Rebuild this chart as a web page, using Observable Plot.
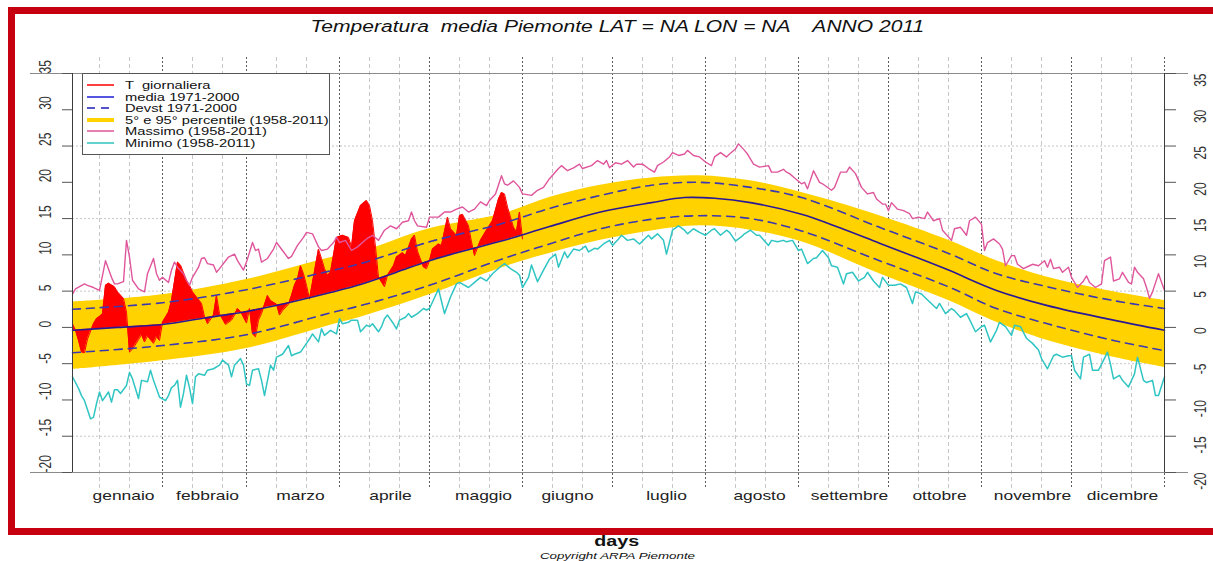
<!DOCTYPE html>
<html lang="it">
<head>
<meta charset="utf-8">
<title>Temperatura media Piemonte 2011</title>
<script src="https://cdn.jsdelivr.net/npm/d3@7"></script>
<script src="https://cdn.jsdelivr.net/npm/@observablehq/plot@0.6"></script>
<style>
  html, body { margin: 0; padding: 0; background: #fff; }
  #page { position: relative; width: 1213px; height: 561px; overflow: hidden; background: #fff;
          font-family: "Liberation Sans", Arial, Helvetica, sans-serif; color: #111; }
  #chart { position: absolute; left: 0; top: 0; }
  #frame { position: absolute; left: 8px; top: 7px; width: 1400px; height: 514px;
           border: 7px solid #c70010; border-right: none; pointer-events: none; }
  .row { position: absolute; left: 0; width: 1234px; text-align: center; white-space: pre; }
  .wide { display: inline-block; transform: scaleX(1.35); transform-origin: 50% 50%; }
  #title { top: 17px; font-style: italic; font-size: 15.6px; line-height: 20px; }
  #xlabel { top: 531px; font-weight: bold; font-size: 14.6px; line-height: 20px; }
  #credit { top: 550px; font-style: italic; font-size: 9.9px; line-height: 12px; }
  #legend { position: absolute; left: 82px; top: 73px; width: 246px; height: 80px;
            border: 1px solid #555; background: #fff; }
  .key { position: absolute; left: 0; height: 12px; width: 246px; }
  .key svg { position: absolute; left: 4px; top: 0; overflow: visible; }
  .key span { position: absolute; left: 42px; top: 0; font-size: 10.9px; line-height: 12px; white-space: pre;
              transform: scaleX(1.35); transform-origin: 0 50%; color: #111; }
</style>
</head>
<body>
<div id="page">
  <div id="chart"></div>
  <div id="frame"></div>
  <div id="title" class="row"><span class="wide">Temperatura  media Piemonte LAT = NA LON = NA    ANNO 2011</span></div>
  <div id="xlabel" class="row"><span class="wide">days</span></div>
  <div id="credit" class="row"><span class="wide">Copyright ARPA Piemonte</span></div>
  <div id="legend"></div>
</div>
<script>
// ---- y axis -------------------------------------------------------------
const yTicks = [-20, -15, -10, -5, 0, 5, 10, 15, 20, 25, 30, 35];
const yGrid = [-15, -5, 5, 15, 25];

// ---- calendar (day of year, 2011) --------------------------------------
const monthNames = ["gennaio", "febbraio", "marzo", "aprile", "maggio", "giugno",
                    "luglio", "agosto", "settembre", "ottobre", "novembre", "dicembre"];
const monthLabelDays = [18, 46, 77, 107, 138, 166, 199, 230, 260, 290, 321, 351];
const monthFirstDays = [1, 32, 60, 91, 121, 152, 182, 213, 244, 274, 305, 335];
const monthLastDays = [31, 59, 90, 120, 151, 181, 212, 243, 273, 304, 334, 365];
const decadeDays = monthFirstDays.flatMap(d => [d + 9, d + 19]);

// ---- climatology 1971-2000 and percentiles 1958-2011 (°C) ---------------
const mediaClima = [[1, -0.4], [16, 0.0], [31, 0.4], [45, 1.3], [59, 2.2], [73, 3.4], [87, 4.8],
  [97, 5.9], [109, 7.6], [120, 9.2], [132, 10.6], [144, 11.9], [160, 13.9], [177, 15.9],
  [194, 17.2], [205, 17.9], [215, 17.8], [227, 17.2], [244, 15.6], [257, 13.7], [270, 11.6],
  [282, 9.7], [293, 7.9], [309, 5.1], [326, 3.0], [348, 1.0], [365, -0.4]];

const bandDays = [1, 31, 59, 87, 97, 120, 144, 160, 177, 194, 210, 227, 244, 270, 293, 309, 326, 348, 365];
const percentile95 = [3.5, 4.5, 6.6, 9.6, 10.4, 13.6, 15.6, 17.9, 19.6, 20.6, 20.9, 20.2, 18.6, 15.4, 12.0, 9.2, 6.9, 4.9, 3.7];
const devstSopra = [2.5, 3.4, 5.2, 7.8, 8.8, 11.8, 14.3, 16.4, 18.2, 19.6, 20.0, 19.3, 17.9, 13.8, 10.2, 7.4, 5.6, 3.7, 2.6];
const devstSotto = [-3.5, -2.5, -1.0, 2.0, 3.0, 5.8, 9.4, 11.5, 13.6, 14.9, 15.4, 15.0, 13.3, 9.2, 5.6, 2.6, 0.5, -1.8, -3.2];
const percentile5 = [-5.8, -4.6, -2.9, 0.3, 1.4, 4.5, 8.2, 10.2, 12.0, 13.3, 14.0, 13.4, 11.8, 7.4, 3.7, 0.7, -1.8, -4.1, -5.5];

// ---- record maxima 1958-2011 -------------------------------------------
const massimo = [[1,4.6],[2,5.3],[5,6.0],[6,5.8],[8,5.5],[10,5.1],[12,9.2],[14,6.9],[15,6.0],[16,6.0],[18,6.3],[19,12.0],[20,9.7],[21,6.5],[23,5.3],[25,4.9],[26,7.4],[28,9.5],[29,7.4],[30,6.5],[31,6.9],[33,6.2],[34,7.9],[35,9.0],[36,8.3],[38,7.4],[39,6.5],[40,5.8],[41,6.9],[43,8.3],[44,9.5],[45,9.6],[46,8.8],[48,8.6],[49,7.6],[50,8.1],[53,9.7],[55,10.1],[56,9.2],[58,7.9],[59,9.0],[61,11.7],[62,10.6],[63,10.8],[64,9.0],[66,9.5],[68,10.8],[69,11.7],[71,10.6],[73,9.5],[74,9.8],[76,11.3],[78,12.4],[79,13.1],[81,12.9],[83,11.1],[84,10.6],[86,10.8],[88,11.7],[89,12.4],[90,11.7],[92,12.0],[94,10.6],[96,11.1],[99,12.2],[101,12.7],[103,12.0],[105,13.4],[107,14.0],[109,13.6],[111,14.5],[113,14.7],[114,15.9],[115,14.7],[116,14.0],[119,13.8],[120,15.2],[123,15.2],[125,15.9],[127,15.9],[129,16.3],[131,16.6],[133,15.9],[135,16.3],[137,17.3],[139,16.8],[140,17.5],[142,18.4],[144,20.9],[145,19.8],[146,19.6],[148,20.2],[150,19.3],[151,18.4],[154,18.2],[156,18.9],[158,19.3],[160,20.5],[163,21.9],[164,22.3],[166,21.6],[168,22.0],[170,22.5],[171,21.9],[174,22.3],[176,23.0],[178,22.5],[179,23.0],[180,22.0],[182,22.7],[184,22.5],[186,23.0],[188,22.1],[189,22.5],[191,22.5],[193,21.9],[195,21.4],[196,22.3],[198,22.8],[200,23.5],[201,24.1],[203,23.7],[205,23.9],[206,24.4],[208,23.7],[210,23.5],[212,22.8],[214,22.3],[215,23.5],[217,24.1],[219,23.5],[220,23.9],[222,24.6],[223,25.3],[225,24.4],[226,23.9],[228,22.5],[230,22.1],[233,22.3],[234,21.4],[236,21.4],[238,21.8],[239,21.4],[240,21.2],[242,20.5],[244,19.8],[245,20.0],[246,19.1],[248,21.6],[250,20.0],[251,19.8],[254,18.9],[255,19.3],[257,21.4],[259,21.4],[260,22.1],[262,21.2],[264,19.3],[266,18.4],[268,18.6],[269,17.7],[271,17.0],[272,17.0],[273,16.1],[274,17.2],[276,16.3],[278,16.1],[280,15.7],[281,15.0],[283,15.2],[285,15.0],[286,15.9],[288,14.7],[290,15.0],[291,13.4],[294,12.0],[295,13.6],[297,13.8],[299,12.7],[300,14.7],[302,15.2],[304,14.2],[305,10.6],[306,11.7],[308,12.2],[310,11.5],[311,10.8],[312,8.5],[314,9.9],[315,9.9],[316,8.7],[318,8.1],[320,8.5],[321,8.7],[323,8.5],[325,9.2],[326,8.3],[327,9.4],[328,8.1],[330,8.3],[331,7.6],[333,8.3],[334,6.9],[336,5.5],[338,6.4],[339,7.1],[340,6.2],[342,5.5],[344,6.0],[345,9.2],[347,9.7],[348,6.4],[350,6.7],[351,7.6],[353,6.2],[354,6.0],[355,8.3],[356,7.6],[358,6.7],[359,5.5],[360,4.0],[361,4.9],[363,7.4],[365,5.1]];

// ---- record minima 1958-2011 -------------------------------------------
const minimo = [[1,-6.8],[3,-8.4],[4,-9.4],[5,-10.1],[7,-12.6],[8,-12.4],[9,-10.5],[10,-8.9],[11,-10.1],[13,-8.9],[14,-10.3],[15,-8.6],[16,-8.6],[17,-9.1],[19,-8.0],[20,-6.2],[21,-7.1],[23,-9.8],[24,-7.3],[26,-7.5],[27,-5.9],[28,-7.3],[30,-9.6],[32,-10.1],[33,-9.4],[34,-8.3],[35,-8.0],[36,-7.3],[37,-11.0],[38,-9.1],[39,-6.6],[40,-8.3],[41,-10.5],[42,-6.8],[43,-6.4],[45,-6.6],[46,-5.9],[48,-5.7],[50,-5.2],[51,-4.5],[53,-5.2],[54,-6.8],[55,-5.2],[57,-4.3],[58,-5.2],[59,-7.8],[60,-8.0],[61,-5.9],[63,-5.7],[64,-7.3],[65,-9.4],[66,-7.3],[67,-5.2],[68,-5.9],[69,-4.1],[71,-3.7],[73,-2.5],[74,-3.9],[75,-3.7],[77,-3.4],[79,-2.2],[80,-1.6],[81,-0.9],[83,-2.0],[84,-0.2],[85,-1.1],[87,-0.4],[89,-0.9],[90,1.2],[91,0.5],[93,0.7],[94,1.0],[96,1.0],[97,-0.6],[99,0.3],[100,0.1],[101,0.5],[103,-0.6],[104,0.1],[105,1.2],[106,1.7],[108,0.5],[109,-0.2],[110,1.0],[112,1.4],[113,1.9],[114,1.4],[116,1.9],[118,2.6],[119,2.4],[120,2.6],[123,5.3],[125,1.9],[127,4.2],[129,6.0],[130,6.2],[133,5.5],[135,6.2],[137,6.9],[139,6.4],[141,7.4],[144,8.5],[145,8.8],[147,8.1],[149,7.6],[150,7.2],[151,5.5],[153,6.9],[154,8.6],[156,6.3],[158,7.9],[160,9.4],[162,10.1],[163,8.3],[165,10.4],[166,9.6],[168,10.8],[170,10.6],[172,11.2],[173,10.4],[175,10.9],[176,10.8],[178,11.5],[180,12.0],[181,11.3],[183,12.2],[184,12.7],[186,12.0],[188,12.2],[190,11.5],[193,12.7],[194,12.2],[196,12.9],[198,12.0],[199,10.1],[201,13.4],[203,14.0],[205,13.4],[206,12.9],[208,13.6],[210,13.1],[212,12.7],[214,13.4],[215,13.6],[217,12.7],[219,13.4],[220,13.1],[222,11.9],[224,12.5],[225,12.9],[227,13.4],[229,12.7],[230,12.7],[233,11.3],[234,12.0],[236,11.8],[238,12.0],[239,11.8],[241,12.0],[243,10.6],[244,10.8],[246,8.8],[248,9.5],[249,9.6],[251,10.6],[253,9.6],[254,8.5],[256,8.3],[258,6.0],[259,7.4],[261,7.6],[263,6.4],[265,6.9],[266,7.6],[268,6.4],[270,5.5],[271,6.9],[273,5.8],[275,5.8],[277,6.0],[279,5.5],[281,3.3],[282,4.9],[284,4.6],[285,4.2],[287,3.4],[289,2.6],[290,3.3],[292,1.9],[294,2.6],[295,2.3],[297,1.4],[299,1.9],[300,1.1],[302,-0.6],[304,0.1],[305,0.3],[307,-2.0],[309,-0.4],[310,0.7],[312,0.1],[314,-1.1],[315,0.3],[317,0.1],[319,-1.5],[321,-2.2],[323,-3.1],[324,-4.3],[326,-5.7],[328,-3.9],[329,-3.7],[331,-4.1],[333,-3.9],[334,-3.9],[335,-5.9],[337,-7.1],[338,-4.1],[340,-3.7],[341,-5.9],[343,-5.9],[344,-5.1],[346,-3.4],[347,-5.1],[348,-7.1],[350,-6.6],[351,-7.3],[353,-8.2],[355,-6.4],[356,-4.1],[358,-7.3],[359,-7.6],[361,-7.3],[362,-9.4],[363,-9.4],[365,-6.8]];

// ---- daily mean temperature 2011 (1 Jan - 31 May) ----------------------
const tGiornaliera = [[1,0.5],[2,-0.4],[3,-1.8],[4,-3.4],[5,-3.5],[6,-1.6],[8,0.5],[9,1.2],[10,1.5],[11,1.9],[12,5.8],[13,6.1],[15,5.6],[16,4.9],[18,4.0],[19,2.1],[20,-3.4],[21,-3.0],[23,-1.7],[24,-1.0],[25,-2.0],[26,-1.2],[28,-2.2],[29,-1.3],[30,-1.8],[31,0.7],[33,2.1],[34,3.7],[36,9.0],[37,8.6],[39,6.5],[40,5.8],[41,4.9],[44,3.3],[45,1.5],[46,0.5],[48,1.7],[49,4.4],[50,1.9],[52,0.4],[54,1.0],[55,1.7],[56,2.6],[57,2.2],[59,0.6],[60,2.6],[61,-0.9],[62,-1.3],[63,1.0],[64,1.9],[66,4.4],[67,3.7],[69,3.2],[70,1.7],[71,2.3],[73,3.2],[74,4.4],[75,5.8],[76,6.7],[77,8.5],[78,7.4],[79,5.8],[80,3.9],[81,6.2],[83,10.8],[84,9.5],[85,8.1],[86,7.2],[87,7.6],[89,12.4],[91,12.7],[93,12.4],[94,11.1],[95,14.7],[97,16.8],[99,17.5],[100,16.8],[101,14.7],[102,11.1],[103,6.9],[105,5.6],[106,7.2],[108,8.5],[109,9.7],[111,10.3],[112,9.9],[114,12.2],[115,12.7],[116,10.5],[118,8.3],[119,8.1],[120,9.2],[121,10.8],[123,11.5],[124,11.3],[126,15.2],[127,13.6],[129,12.7],[130,15.4],[131,15.6],[133,14.0],[134,11.8],[135,9.9],[137,12.0],[139,13.4],[141,14.7],[143,17.7],[144,18.6],[145,18.4],[146,16.6],[148,13.8],[149,13.2],[150,15.9],[151,12.2]];

// ---- legend entries -----------------------------------------------------
const legendLabels = ["T  giornaliera", "media 1971-2000", "Devst 1971-2000",
  "5° e 95° percentile (1958-2011)", "Massimo (1958-2011)", "Minimo (1958-2011)"];

// colours and line styles
const C = {
  t: "#ff0000", media: "#2a1896", devst: "#3c38b0", band: "#ffd200",
  max: "#e0569c", min: "#2fc5c3", grid: "#c6c6c6", month: "#5c5c5c", axis: "#3c3c3c"
};
const legendStyles = [
  {stroke: C.t, width: 1.5}, {stroke: "#1c1cd8", width: 1.5}, {stroke: "#5454c8", width: 2, dash: "8,6"},
  {stroke: C.band, width: 4}, {stroke: C.max, width: 1.5}, {stroke: C.min, width: 1.5}
];

// tables for the marks
const band = bandDays.map((day, i) => ({day, p5: percentile5[i], p95: percentile95[i],
                                         up: devstSopra[i], down: devstSotto[i]}));
const mediaAt = d3.scaleLinear().domain(mediaClima.map(d => d[0])).range(mediaClima.map(d => d[1]));
const anomaly = tGiornaliera.map(([day, t]) => ({day, t, base: mediaAt(day)}));

const FONT = '"Liberation Sans", Arial, Helvetica, sans-serif';
const STRETCH = 1.35;

const svg = Plot.plot({
  width: 1213,
  height: 561,
  marginTop: 73,
  marginRight: 49,
  marginBottom: 89,
  marginLeft: 72,
  x: {domain: [1, 365], axis: null},
  y: {domain: [-20, 35]},
  style: {background: "transparent", fontFamily: FONT, overflow: "visible"},
  marks: [
    // grid
    Plot.ruleY(yGrid, {stroke: C.grid, strokeDasharray: "2,2"}),
    Plot.ruleX(decadeDays, {stroke: C.grid, strokeDasharray: "4,3", insetTop: -16, insetBottom: -16}),
    Plot.ruleX(monthLastDays, {stroke: C.month, strokeDasharray: "2,2", insetTop: -16, insetBottom: -16}),
    Plot.ruleY([35, -20], {stroke: "#8a8a8a", insetLeft: -42, insetRight: -24}),
    // 5th-95th percentile band
    Plot.areaY(band, {x: "day", y1: "p5", y2: "p95", fill: C.band, curve: "catmull-rom"}),
    // 2011 daily temperature against the 1971-2000 mean
    Plot.areaY(anomaly, {x: "day", y1: "base", y2: "t", fill: C.t}),
    Plot.lineY(anomaly, {x: "day", y: "t", stroke: C.t, strokeWidth: 1}),
    // records
    Plot.line(massimo, {stroke: C.max, strokeWidth: 1.4}),
    Plot.line(minimo, {stroke: C.min, strokeWidth: 1.5}),
    // standard deviation and mean
    Plot.line(band, {x: "day", y: "up", stroke: C.devst, strokeWidth: 1.6, strokeDasharray: "8,6", curve: "catmull-rom"}),
    Plot.line(band, {x: "day", y: "down", stroke: C.devst, strokeWidth: 1.6, strokeDasharray: "8,6", curve: "catmull-rom"}),
    Plot.line(mediaClima, {stroke: C.media, strokeWidth: 1.6, curve: "catmull-rom"}),
    // frame sides and axes
    Plot.ruleX([1, 365], {stroke: C.axis}),
    Plot.axisY({anchor: "left", ticks: yTicks, tickSize: 10, tickFormat: () => "", label: null, stroke: "#555"}),
    Plot.axisY({anchor: "right", ticks: yTicks, tickSize: 11, tickFormat: () => "", label: null, stroke: "#555"}),
    Plot.text(yTicks, {y: d => d, text: d => String(d), frameAnchor: "left", dx: -27, rotate: -90,
                       fontSize: 12, fill: "#333"}),
    Plot.text(yTicks, {y: d => d, text: d => String(d), frameAnchor: "right", dx: 36, rotate: -90,
                       fontSize: 12, fill: "#333"}),
    Plot.text(monthNames, {x: monthLabelDays, text: d => d, frameAnchor: "bottom", dy: 27,
                           fontSize: 12.9, fill: "#222"})
  ]
});
document.getElementById("chart").append(svg);

// widen the axis lettering horizontally about each label's anchor
const widenTexts = new Set([...monthNames, ...yTicks.map(String)]);
function widen(sx) {
  svg.querySelectorAll("text").forEach(t => {
    if (!widenTexts.has(t.textContent.trim())) return;
    const tr = t.getAttribute("transform") || "";
    const m = /translate\(\s*([-\d.e]+)/.exec(tr);
    const ox = (m ? +m[1] : 0) + (+t.getAttribute("x") || 0);
    t.setAttribute("transform", `translate(${ox},0) scale(${sx},1) translate(${-ox},0) ${tr}`);
  });
}
widen(STRETCH);

// legend box
const legend = document.getElementById("legend");
const rowCenters = [11, 22.7, 34.3, 45.5, 57, 68.5];
legendLabels.forEach((label, i) => {
  const s = legendStyles[i];
  const row = document.createElement("div");
  row.className = "key";
  row.style.top = (rowCenters[i] - 6) + "px";
  row.innerHTML =
    `<svg width="28" height="12"><line x1="0" x2="27" y1="6" y2="6" stroke="${s.stroke}" stroke-width="${s.width}"` +
    (s.dash ? ` stroke-dasharray="${s.dash}"` : "") + `/></svg><span>${label}</span>`;
  legend.append(row);
});
</script>
</body>
</html>
